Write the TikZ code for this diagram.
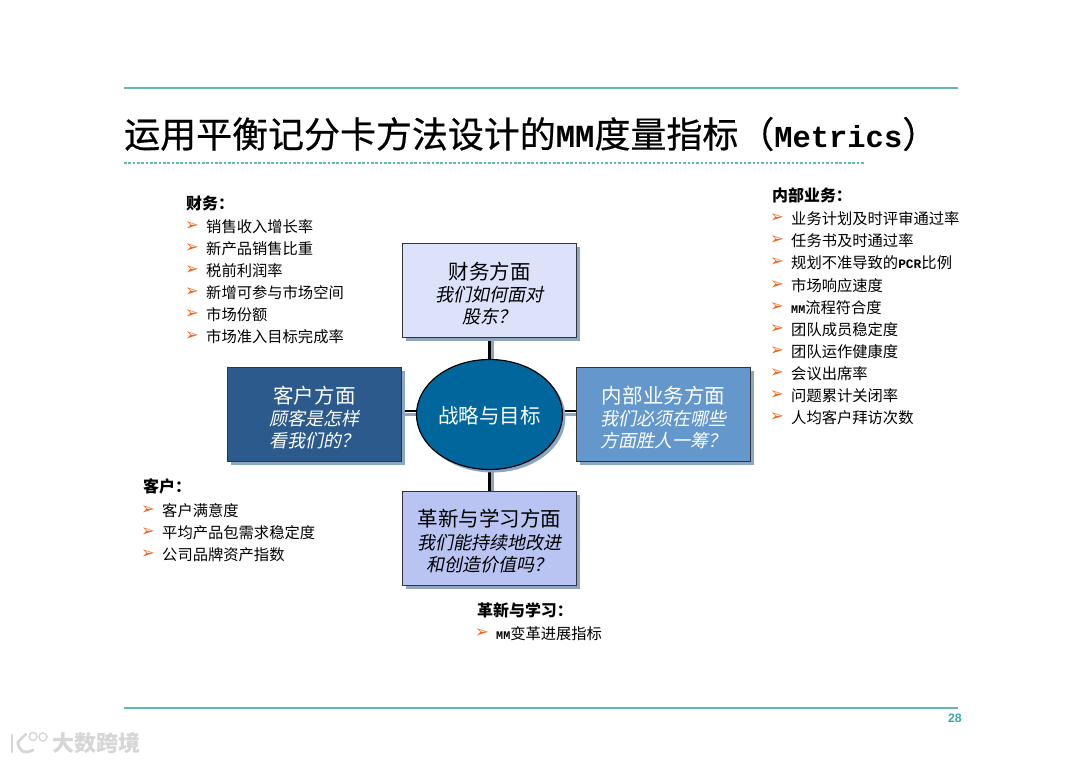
\documentclass[tikz,border=0pt]{standalone}
\usepackage{fontspec}
\setmainfont{Noto Sans CJK SC}
\newfontfamily\slantfont[FakeSlant=0.2]{Noto Sans CJK SC}
\newfontfamily\titlefont[FakeBold=0.5]{Noto Sans CJK SC}
\newfontfamily\monofont{Liberation Mono}
\newfontfamily\pagefont{Liberation Sans}
\newfontfamily\dingfont{DejaVu Sans}
\usetikzlibrary{shapes.geometric,shadows,backgrounds}
\definecolor{tealline}{HTML}{5FB8B4}
\definecolor{pageteal}{HTML}{3AA8A4}
\definecolor{shadowblue}{HTML}{8FA6C0}
\definecolor{finfill}{HTML}{DCE2FA}
\definecolor{custfill}{HTML}{2C5A8C}
\definecolor{procfill}{HTML}{6498CC}
\definecolor{learnfill}{HTML}{B9C4F2}
\definecolor{corefill}{HTML}{00669C}
\definecolor{bulletred}{HTML}{F0641E}
\definecolor{markgray}{HTML}{D6D6D6}
\begin{document}
\begin{tikzpicture}[x=0.03cm, y=-0.03cm]
        \tikzstyle{rule}=[tealline, line width=1.1pt]
        \tikzstyle{card}=[rectangle, draw=black!80, line width=0.8pt, minimum width=5.22cm, minimum height=2.83cm, inner sep=0pt, align=center, font=\fontsize{15.4}{18.9}\selectfont, general shadow={fill=shadowblue, shadow xshift=0.11cm, shadow yshift=-0.11cm}]
        \tikzstyle{head}=[anchor=west, inner sep=0pt, font=\fontsize{13.6}{16}\selectfont\bfseries]
        \tikzstyle{entry}=[anchor=west, inner sep=0pt, yshift=-0.015cm, font=\fontsize{13.05}{16}\selectfont]
        \tikzstyle{tick}=[anchor=center, inner sep=0pt, text=bulletred, font=\fontsize{14}{17}\dingfont\bfseries]
        \tikzstyle{link}=[black, line width=2pt]
        \tikzstyle{linkshadow}=[shadowblue, line width=2pt]
        \newcommand{\cardtext}[3]{{\fontsize{17.5}{19}\selectfont\rule{0pt}{19.5pt}#1}\\{\slantfont #2}\\{\slantfont #3}}
        \useasboundingbox (0,0) rectangle (1080,763);

        % Page rules
        \coordinate (topl) at (124,88);
        \coordinate (topr) at (958,88);
        \coordinate (dotl) at (124,163);
        \coordinate (dotr) at (864,163);
        \coordinate (botl) at (124,708);
        \coordinate (botr) at (958,708);
        \draw[rule] (topl) -- (topr);
        \draw[tealline, line width=2.4pt, dash pattern=on 2.2pt off 1.5pt] (dotl) -- (dotr);
        \draw[rule] (botl) -- (botr);

        % Title
        \node[anchor=west, inner sep=0pt, font=\fontsize{30.7}{34}\titlefont] (title) at (124,134) {运用平衡记分卡方法设计的{\fontsize{27.5}{30}\monofont\bfseries MM}度量指标（{\fontsize{26}{30}\monofont\bfseries Metrics}）};
        \node[anchor=east, inner sep=0pt, text=pageteal, font=\fontsize{10.5}{12}\pagefont\bfseries] (page) at (962,718) {28};

        % Four cards
        \node[card, fill=finfill] (fin) at (489.5,290.5) {\cardtext{财务方面}{我们如何面对}{股东？}};
        \node[card, fill=custfill, text=white] (cust) at (314.5,414.5) {\cardtext{客户方面}{顾客是怎样}{看我们的？}};
        \node[card, fill=procfill, text=white] (proc) at (663.5,414.5) {\cardtext{内部业务方面}{我们必须在哪些}{方面胜人一筹？}};
        \node[card, fill=learnfill] (learn) at (489.5,538.5) {\cardtext{革新与学习方面}{我们能持续地改进}{和创造价值吗？}};

        % Centre
        \node[ellipse, draw=black, line width=1pt, fill=corefill, text=white, minimum width=4.38cm, minimum height=3.3cm, inner sep=0pt, font=\fontsize{17.5}{20}\selectfont, general shadow={fill=shadowblue, shadow xshift=0.09cm, shadow yshift=-0.09cm}] (core) at (489.5,414.5) {\rule{0pt}{17.5pt}战略与目标};

        % Links
        \begin{scope}[on background layer]
            \draw[linkshadow] ([xshift=0.09cm]fin.south) -- ([xshift=0.09cm]core.north);
            \draw[linkshadow] ([xshift=0.09cm]core.south) -- ([xshift=0.09cm]learn.north);
            \draw[linkshadow] (cust.east) -- (core.west);
            \draw[linkshadow] (core.east) -- (proc.west);
            \draw[link] (fin.south) -- (core.north);
            \draw[link] (core.south) -- (learn.north);
            \draw[link] ([yshift=0.1cm]cust.east) -- ([yshift=0.1cm]core.west);
            \draw[link] ([yshift=0.1cm]core.east) -- ([yshift=0.1cm]proc.west);
        \end{scope}

        % Finance list
        \node[head] (finhead) at (186,203) {财务：};
        \foreach \ypos/\txt [count=\i] in {226/销售收入增长率, 248/新产品销售比重, 270/税前利润率, 292/新增可参与市场空间, 314/市场份额, 336/市场准入目标完成率} {
            \node[tick] (fintick\i) at (192,\ypos) {➢};
            \node[entry] (finitem\i) at (206,\ypos) {\txt};
        }

        % Internal process list
        \node[head] (prochead) at (772,195) {内部业务：};
        \foreach \ypos/\txt [count=\i] in {218.5/业务计划及时评审通过率, 240.5/任务书及时通过率, 262.5/规划不准导致的{\fontsize{11}{12}\monofont\bfseries PCR}比例, 285/市场响应速度, 307/{\fontsize{10}{12}\monofont\bfseries MM}流程符合度, 329/团队成员稳定度, 351/团队运作健康度, 373/会议出席率, 395/问题累计关闭率, 417/人均客户拜访次数} {
            \node[tick] (proctick\i) at (777,\ypos) {➢};
            \node[entry] (procitem\i) at (791,\ypos) {\txt};
        }

        % Customer list
        \node[head] (custhead) at (143,486) {客户：};
        \foreach \ypos/\txt [count=\i] in {510/客户满意度, 532/平均产品包需求稳定度, 554/公司品牌资产指数} {
            \node[tick] (custtick\i) at (148,\ypos) {➢};
            \node[entry] (custitem\i) at (162,\ypos) {\txt};
        }

        % Learning list
        \node[head] (learnhead) at (477,610) {革新与学习：};
        \node[tick] (learntick) at (482,633) {➢};
        \node[entry] (learnitem) at (496,633) {{\fontsize{10}{12}\monofont\bfseries MM}变革进展指标};

        % Watermark
        \draw[markgray, line width=2.4pt, line cap=round] (12,735) -- (12,752);
        \draw[markgray, line width=2.4pt, line cap=round] (26,734) -- (18,742) .. controls (18,750) and (24,755) .. (33,750);
        \draw[markgray, line width=1.2pt] (33,736.5) circle (4);
        \draw[markgray, line width=1.2pt] (43,737) circle (4);
        \node[anchor=west, inner sep=0pt, text=markgray, font=\fontsize{18.8}{22}\selectfont\bfseries] (mark) at (52,743) {大数跨境};
\end{tikzpicture}
\end{document}
